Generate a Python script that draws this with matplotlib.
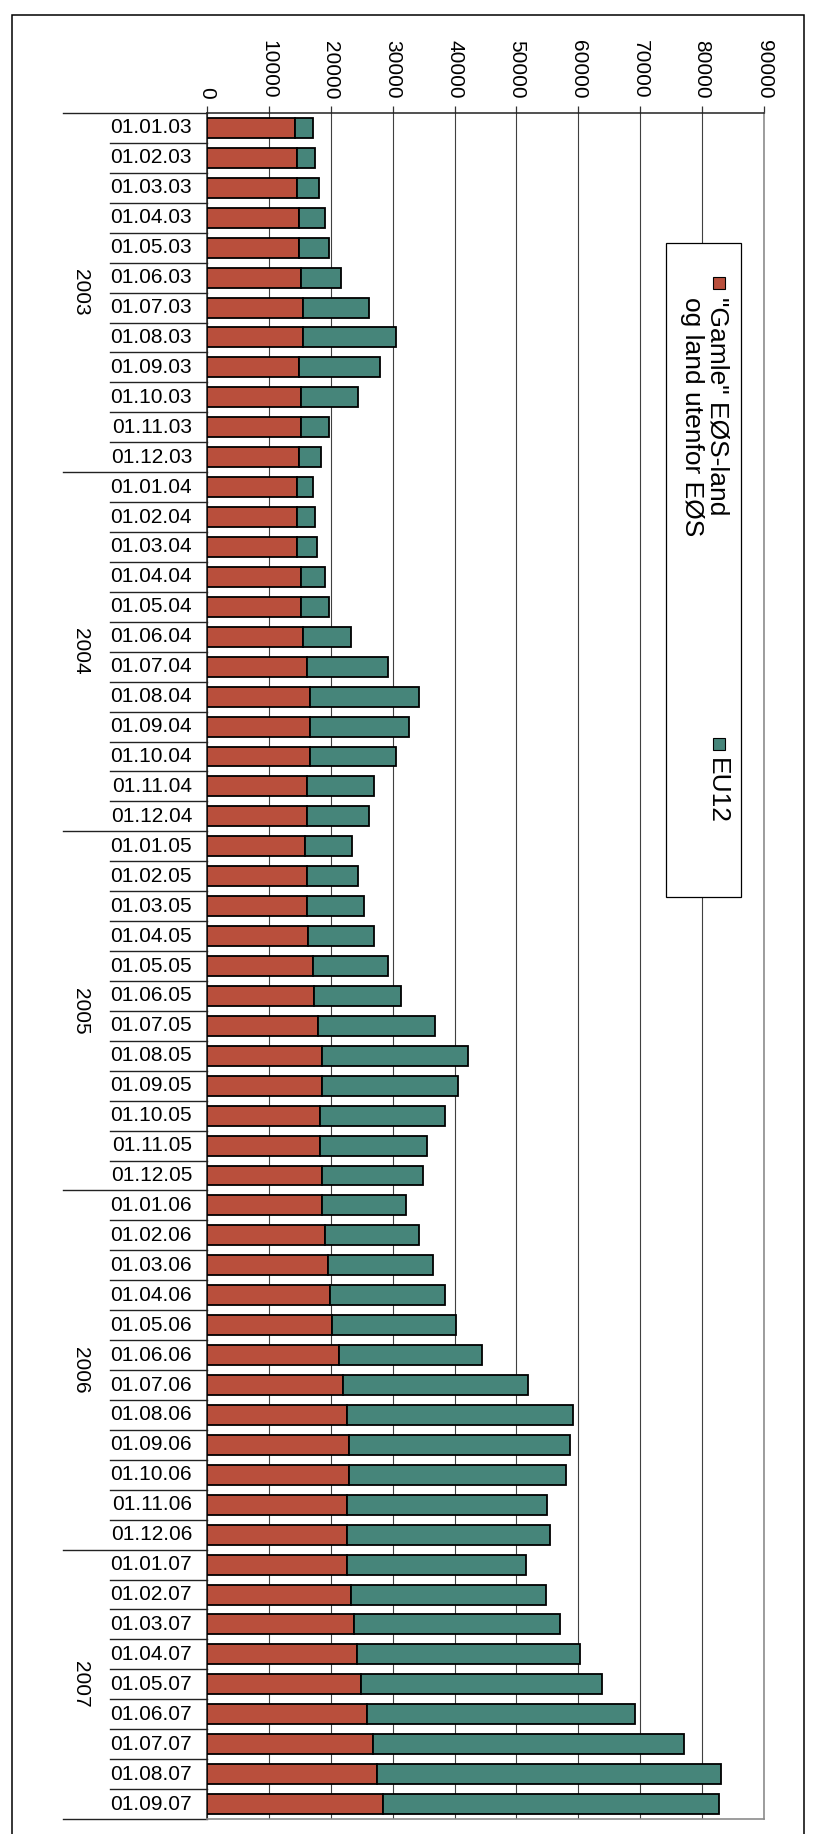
import numpy as np
import matplotlib.pyplot as plt
from matplotlib.patches import Rectangle
from matplotlib.lines import Line2D
from matplotlib.transforms import blended_transform_factory

plt.rcParams['font.family'] = ['Liberation Sans', 'DejaVu Sans']

# categories (first of month)
dates = ['01.%02d.%02d' % (m, y) for y in range(3, 8) for m in range(1, 13)][:57]
years = ['2003', '2004', '2005', '2006', '2007']
year_counts = [12, 12, 12, 12, 9]

# "Gamle" EØS-land og land utenfor EØS
gamle = [14200, 14500, 14500, 14900, 14900, 15200, 15500, 15500, 14900, 15200, 15200, 14900,
         14500, 14500, 14500, 15200, 15200, 15500, 16100, 16700, 16700, 16700, 16100, 16100,
         15800, 16100, 16100, 16400, 17100, 17300, 18000, 18600, 18600, 18300, 18300, 18600,
         18600, 19000, 19600, 19900, 20200, 21300, 21900, 22600, 22900, 22900, 22600, 22700,
         22600, 23300, 23700, 24200, 24900, 25900, 26800, 27400, 28400]
# EU12
eu12 = [3000, 2900, 3600, 4200, 4800, 6400, 10600, 15000, 13000, 9200, 4500, 3500,
        2700, 2900, 3300, 3900, 4500, 7700, 13200, 17500, 16000, 13800, 10900, 10000,
        7700, 8300, 9300, 10600, 12100, 14100, 18800, 23600, 22000, 20100, 17200, 16300,
        13500, 15200, 16900, 18500, 20100, 23200, 30000, 36600, 35700, 35100, 32300, 32800,
        29000, 31500, 33300, 36000, 39000, 43200, 50200, 55600, 54300]

xticks = list(range(0, 90001, 10000))

W, H = 814, 1834
fig = plt.figure(figsize=(W / 100, H / 100), dpi=100)

def fx(p):
    return p / W

def fy(p):
    return 1 - p / H

# plot area in pixel terms
left, right, top, bottom = 207, 764, 113, 1819
ax = fig.add_axes([fx(left), fy(bottom), fx(right - left), (bottom - top) / H])

y = np.arange(len(dates))
ax.barh(y, gamle, height=0.667, color='#B94F3C', edgecolor='black', linewidth=1.3, zorder=3)
ax.barh(y, eu12, left=gamle, height=0.667, color='#46857A', edgecolor='black', linewidth=1.3, zorder=3)

ax.set_xlim(0, 90000)
ax.set_ylim(len(dates) - 0.5, -0.5)
ax.xaxis.tick_top()
ax.set_xticks(xticks)
ax.set_xticklabels([str(v) for v in xticks], rotation=-90, fontsize=15)
ax.tick_params(axis='x', direction='out', length=5, width=0.9, pad=5, color='#333333')
ax.set_yticks([])
ax.grid(axis='x', color='#404040', linewidth=0.8)
ax.set_axisbelow(True)

ax.spines['top'].set_color('#222222')
ax.spines['top'].set_linewidth(1.1)
ax.spines['left'].set_color('#222222')
ax.spines['left'].set_linewidth(1.1)
for s in ['right', 'bottom']:
    ax.spines[s].set_color('#8c8c8c')
    ax.spines[s].set_linewidth(1.2)

# multi-level category axis
tr = blended_transform_factory(ax.transAxes, ax.transData)
pw = right - left
short_x = (110 - left) / pw
long_x = (63 - left) / pw
year_bounds = np.cumsum([0] + year_counts)
for i in range(len(dates) + 1):
    x0 = long_x if i in year_bounds else short_x
    ax.add_line(Line2D([x0, 0], [i - 0.5, i - 0.5], transform=tr, color='#222222',
                       linewidth=1.0, clip_on=False))
for i, d in enumerate(dates):
    ax.text(-15 / pw, i, d, transform=tr, ha='right', va='center', fontsize=15)
for k, yr in enumerate(years):
    mid = (year_bounds[k] + year_bounds[k + 1] - 1) / 2
    ax.text((80 - left) / pw, mid, yr, transform=tr, ha='center', va='center',
            rotation=-90, fontsize=15)

# legend
fig.add_artist(Rectangle((fx(666), fy(897)), fx(741 - 666), (897 - 243) / H,
                         transform=fig.transFigure, facecolor='white', edgecolor='black',
                         linewidth=0.9, zorder=5))
for yc, col in [(283, '#B94F3C'), (744, '#46857A')]:
    fig.add_artist(Rectangle((fx(713), fy(yc + 6)), fx(12), 12 / H, transform=fig.transFigure,
                             facecolor=col, edgecolor='black', linewidth=0.8, zorder=6))
fig.text(fx(729), fy(297), '"Gamle" EØS-land\nog land utenfor EØS', rotation=-90,
         ha='right', va='top', multialignment='left', fontsize=19, linespacing=1.05, zorder=7)
fig.text(fx(729), fy(758), 'EU12', rotation=-90, ha='right', va='top', fontsize=19, zorder=7)

# outer chart border
fig.add_artist(Rectangle((fx(12), -0.01), fx(804 - 12), 1.01 - 15 / H, transform=fig.transFigure,
                         facecolor='none', edgecolor='black', linewidth=1.1, zorder=8))

fig.savefig('out.png', dpi=100)
